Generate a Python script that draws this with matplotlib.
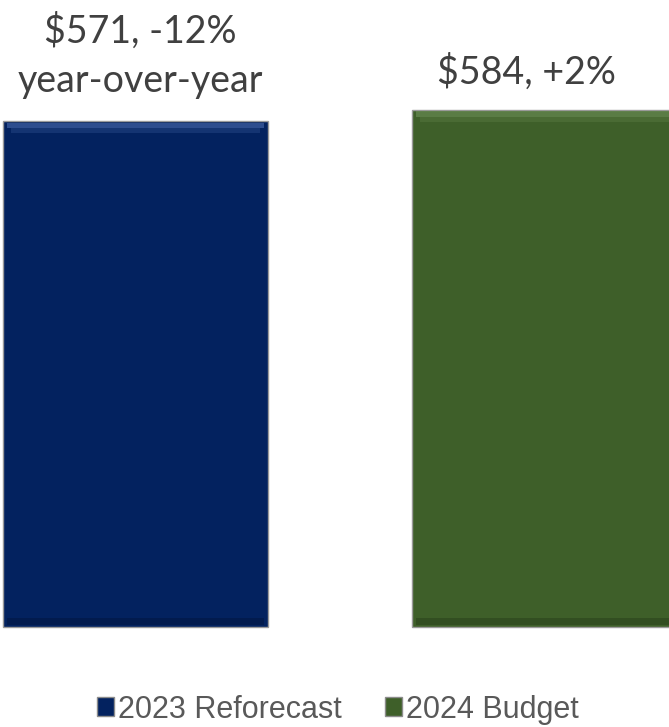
import matplotlib.pyplot as plt
from matplotlib.patches import Patch

# dados
categorias = ['2023 Reforecast', '2024 Budget']
valores = [571, 584]
rotulos = ['$571, -12%\nyear-over-year', '$584, +2%']
cores = ['#03225F', '#3E5F29']
claras = ['#4A6AAE', '#6E9058']
escuras = ['#021A4A', '#2F4A1F']

fig = plt.figure(figsize=(6.69, 7.27), dpi=100)
ax = fig.add_axes([0, 0, 1, 1])

x = range(len(categorias))
ax.bar(x, valores, width=0.648, color=cores, edgecolor='#9a9a9a',
       linewidth=1.0, zorder=2)

# efeito de bisel: faixa clara no topo, escura na base
for i, v in enumerate(valores):
    ax.bar(i, 6, bottom=v - 8, width=0.63, color=claras[i], alpha=0.6,
           linewidth=0, zorder=3)
    ax.bar(i, 6, bottom=v - 14, width=0.61, color=claras[i], alpha=0.25,
           linewidth=0, zorder=3)
    ax.bar(i, 8, bottom=2, width=0.63, color=escuras[i], alpha=0.8,
           linewidth=0, zorder=3)

# rotulos acima das barras (linha de baixo primeiro)
desloc = [0.012, -0.044]
for i, v in enumerate(valores):
    linhas = rotulos[i].split('\n')[::-1]
    off = 33 if len(linhas) > 1 else 29
    for j, linha in enumerate(linhas):
        ax.text(i + desloc[i], v + off + j * 55, linha, ha='center',
                va='baseline', fontsize=27, color='#404040', family='Lato')

ax.set_xlim(-0.3313, 1.3044)
ax.set_ylim(-112.9, 707.6)
ax.axis('off')

handles = [Patch(facecolor=c, edgecolor='#8c8c8c', label=l)
           for c, l in zip(cores, categorias)]
ax.legend(handles=handles, loc='center', bbox_to_anchor=(0.505, 0.024),
          ncol=2, frameon=False, handlelength=0.55,
          handleheight=0.6, handletextpad=0.15, columnspacing=1.4,
          labelcolor='#595959', prop={'family': 'Liberation Sans', 'size': 22})

fig.savefig('out.png', dpi=100)
